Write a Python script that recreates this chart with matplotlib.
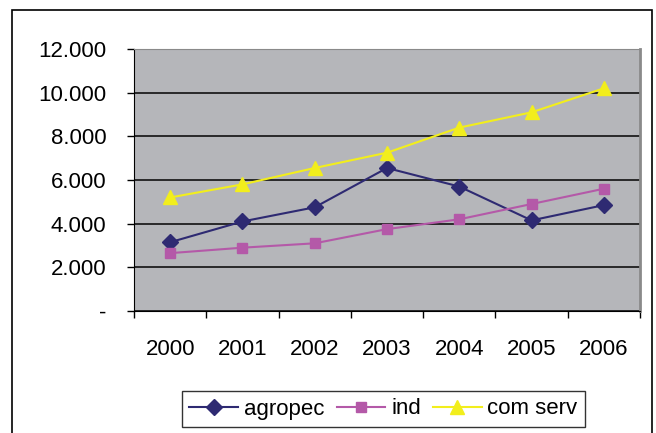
import matplotlib.pyplot as plt
from matplotlib.patches import Rectangle

years = ['2000', '2001', '2002', '2003', '2004', '2005', '2006']
agropec = [3150, 4100, 4750, 6550, 5700, 4150, 4850]
ind = [2650, 2900, 3100, 3750, 4200, 4900, 5600]
com_serv = [5200, 5800, 6550, 7250, 8400, 9100, 10200]
yticks = [0, 2000, 4000, 6000, 8000, 10000, 12000]
ylabels = ['-', '2.000', '4.000', '6.000', '8.000', '10.000', '12.000']

plt.rcParams['font.family'] = ['Liberation Sans', 'DejaVu Sans']

fig = plt.figure(figsize=(6.56, 4.33), dpi=100)
ax = fig.add_axes([134 / 656, 1 - 311 / 433, 506 / 656, 262 / 433])
ax.set_facecolor('#b5b6ba')

x = [i + 0.5 for i in range(len(years))]
ax.plot(x, agropec, color='#2e2a72', lw=1.5, marker='D', ms=8, label='agropec')
ax.plot(x, ind, color='#b459a8', lw=1.5, marker='s', ms=7.5, label='ind')
ax.plot(x, com_serv, color='#f2ee1c', lw=1.5, marker='^', ms=10, label='com serv')

ax.set_xlim(0, len(years))
ax.set_ylim(0, 12000)
ax.set_yticks(yticks)
ax.set_yticklabels(ylabels, fontsize=16)
ax.set_xticks(range(len(years) + 1))
ax.set_xticklabels([])
ax.set_xticks(x, minor=True)
ax.set_xticklabels(years, minor=True, fontsize=16)
ax.tick_params(axis='x', which='minor', length=0, pad=20)
ax.tick_params(axis='x', which='major', length=5, width=1, direction='out')
ax.tick_params(axis='y', length=5, width=1, direction='out', pad=15)
ax.grid(axis='y', color='#111111', lw=1.2)
ax.set_axisbelow(True)
ax.spines['left'].set_color('black')
ax.spines['bottom'].set_color('black')
ax.spines['top'].set_color('#8a8a8a')
ax.spines['right'].set_color('#8a8a8a')
ax.spines['right'].set_linewidth(2)

leg = fig.legend(loc='center', bbox_to_anchor=(383.5 / 656, 1 - 409 / 433),
                 ncol=3, fontsize=16, frameon=True, fancybox=False,
                 edgecolor='black', handlelength=2.2, handletextpad=0.25,
                 columnspacing=0.55, borderaxespad=0, borderpad=0.35)
leg.get_frame().set_linewidth(1.0)

fig.patches.append(Rectangle((12 / 656, -0.05), 640 / 656, 1.05 - 10 / 433,
                             transform=fig.transFigure, fill=False,
                             edgecolor='black', lw=1.2))

fig.savefig('out.png', dpi=100)
